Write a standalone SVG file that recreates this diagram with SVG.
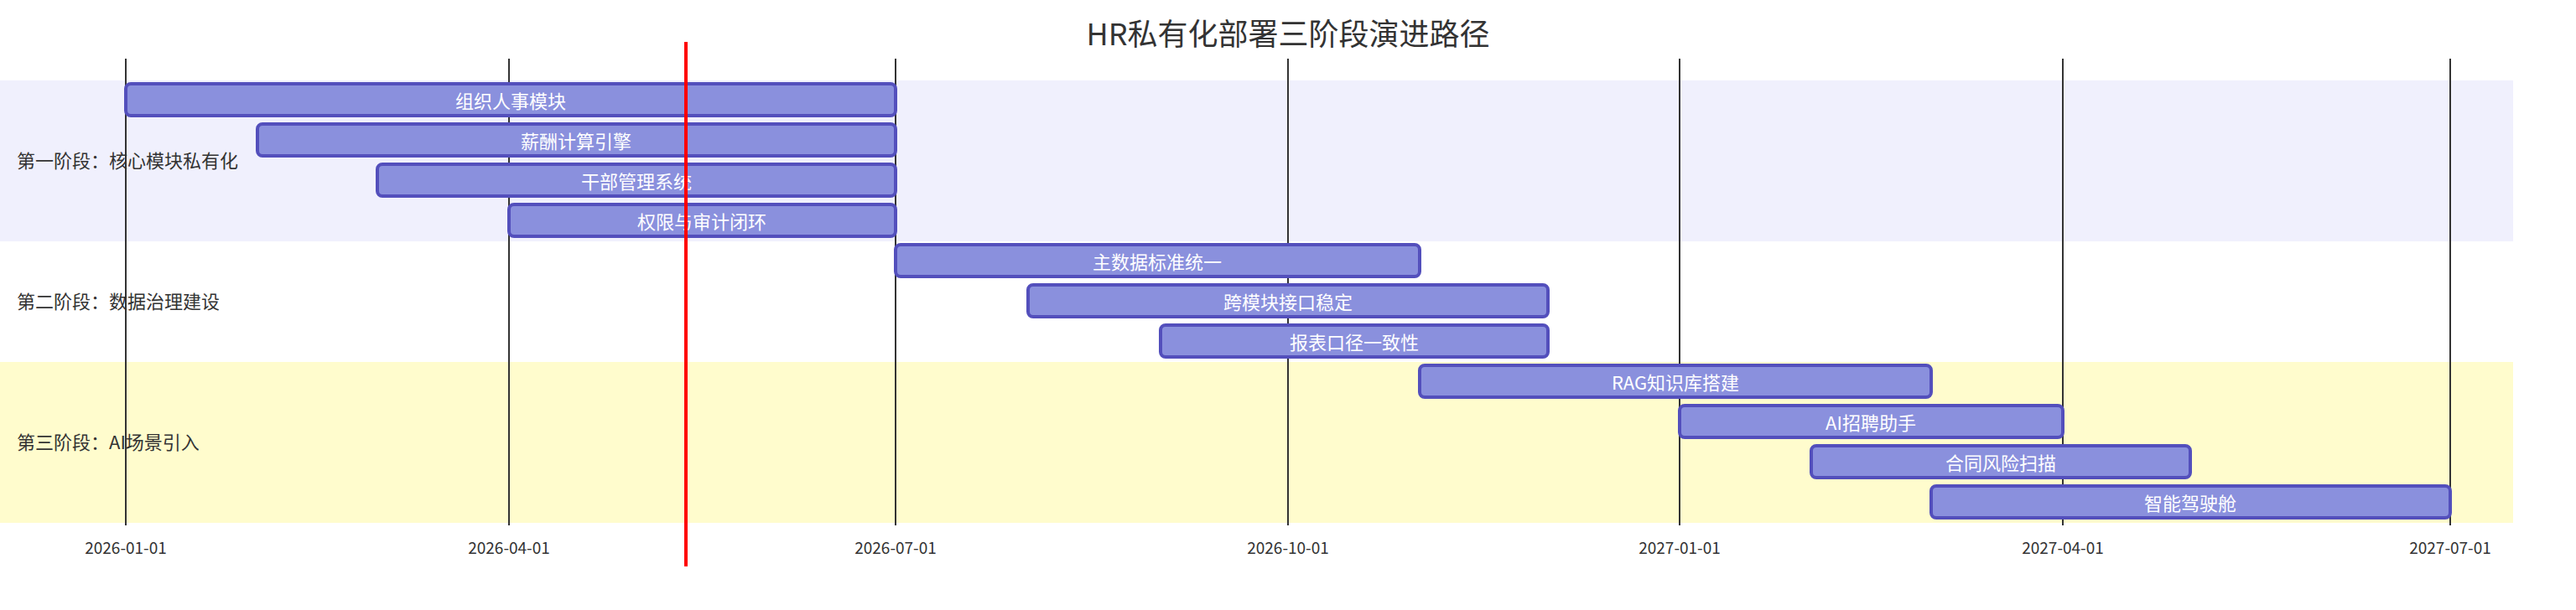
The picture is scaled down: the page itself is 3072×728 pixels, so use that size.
<svg xmlns="http://www.w3.org/2000/svg" width="3072" height="728" viewBox="0 0 3072 728">
<style>
text{font-family:"Noto Sans CJK SC","Liberation Sans",sans-serif}
.bar{fill:#8a90dd;stroke:#534fbc;stroke-width:4}
.bt{fill:#fff;font-size:22px;text-anchor:middle;dominant-baseline:central}
.sec{fill:#333;font-size:22px;dominant-baseline:central}
.grid{stroke:#333;stroke-width:2}
.tick{fill:#333;font-size:19px;text-anchor:middle}
</style>
<rect width="3072" height="728" fill="#fff"/>
<g id="sections">
<rect x="0" y="96" width="2997" height="192" fill="#f0f0fd"/>
<rect x="0" y="432" width="2997" height="192" fill="#fffccd"/>
</g>
<g id="grid">
<line class="grid" x1="150" y1="70" x2="150" y2="627"/>
<line class="grid" x1="607" y1="70" x2="607" y2="627"/>
<line class="grid" x1="1068" y1="70" x2="1068" y2="627"/>
<line class="grid" x1="1536" y1="70" x2="1536" y2="627"/>
<line class="grid" x1="2003" y1="70" x2="2003" y2="627"/>
<line class="grid" x1="2460" y1="70" x2="2460" y2="627"/>
<line class="grid" x1="2922" y1="70" x2="2922" y2="627"/>
<text class="tick" x="150" y="661">2026-01-01</text>
<text class="tick" x="607" y="661">2026-04-01</text>
<text class="tick" x="1068" y="661">2026-07-01</text>
<text class="tick" x="1536" y="661">2026-10-01</text>
<text class="tick" x="2003" y="661">2027-01-01</text>
<text class="tick" x="2460" y="661">2027-04-01</text>
<text class="tick" x="2922" y="661">2027-07-01</text>
</g>
<text x="1536" y="38" font-size="36" fill="#333" text-anchor="middle" dominant-baseline="central">HR私有化部署三阶段演进路径</text>
<text class="sec" x="20" y="190">第一阶段：核心模块私有化</text>
<text class="sec" x="20" y="358">第二阶段：数据治理建设</text>
<text class="sec" x="20" y="526">第三阶段：AI场景引入</text>
<g id="t1"><rect class="bar" x="150" y="100" width="918" height="38" rx="6"/><text class="bt" x="609" y="119">组织人事模块</text></g>
<g id="t2"><rect class="bar" x="307" y="148" width="761" height="38" rx="6"/><text class="bt" x="687" y="167">薪酬计算引擎</text></g>
<g id="t3"><rect class="bar" x="450" y="196" width="618" height="38" rx="6"/><text class="bt" x="759" y="215">干部管理系统</text></g>
<g id="t4"><rect class="bar" x="607" y="244" width="461" height="38" rx="6"/><text class="bt" x="837" y="263">权限与审计闭环</text></g>
<g id="t5"><rect class="bar" x="1068" y="292" width="625" height="38" rx="6"/><text class="bt" x="1380" y="311">主数据标准统一</text></g>
<g id="t6"><rect class="bar" x="1226" y="340" width="620" height="38" rx="6"/><text class="bt" x="1536" y="359">跨模块接口稳定</text></g>
<g id="t7"><rect class="bar" x="1384" y="388" width="462" height="38" rx="6"/><text class="bt" x="1615" y="407">报表口径一致性</text></g>
<g id="t8"><rect class="bar" x="1693" y="436" width="610" height="38" rx="6"/><text class="bt" x="1998" y="455">RAG知识库搭建</text></g>
<g id="t9"><rect class="bar" x="2003" y="484" width="457" height="38" rx="6"/><text class="bt" x="2231" y="503">AI招聘助手</text></g>
<g id="t10"><rect class="bar" x="2160" y="532" width="452" height="38" rx="6"/><text class="bt" x="2386" y="551">合同风险扫描</text></g>
<g id="t11"><rect class="bar" x="2303" y="580" width="619" height="38" rx="6"/><text class="bt" x="2612" y="599">智能驾驶舱</text></g>
<line id="today" x1="818" y1="50" x2="818" y2="676" stroke="#f00" stroke-width="4"/>
</svg>
